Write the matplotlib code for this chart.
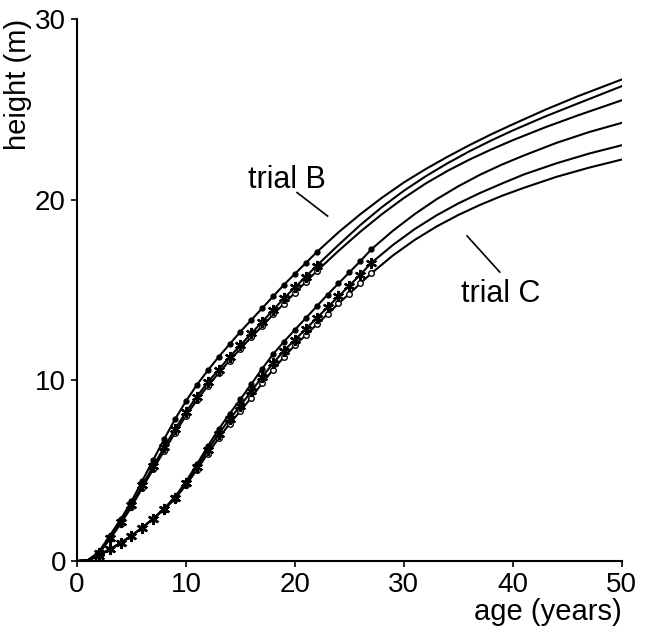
import matplotlib
matplotlib.use('Agg')
import matplotlib.pyplot as plt

plt.rcParams['font.family'] = ['Liberation Sans', 'DejaVu Sans']

# ages at which the fitted curves are read (yearly while observed, then sparser)
ages_B = list(range(0, 23)) + [24, 26, 28, 30, 32, 34, 36, 38, 40, 43, 46, 50]
ages_C = list(range(0, 28)) + [29, 31, 33, 35, 37, 39, 41, 44, 47, 50]

# trial B heights (m): dots, crosses, open circles
B_dot = [0, 0.05, 0.5, 1.4, 2.3, 3.3, 4.45, 5.6, 6.75, 7.85, 8.85, 9.75, 10.55, 11.3,
         12.0, 12.7, 13.35, 14.0, 14.65, 15.3, 15.9, 16.5, 17.1,
         18.2, 19.2, 20.12, 20.96, 21.7, 22.38, 23.02, 23.62, 24.18, 24.99, 25.74, 26.66]
B_cross = [0, 0.05, 0.45, 1.3, 2.15, 3.1, 4.2, 5.25, 6.3, 7.3, 8.25, 9.1, 9.9, 10.6,
           11.3, 11.95, 12.6, 13.25, 13.9, 14.55, 15.15, 15.75, 16.35,
           17.5, 18.6, 19.6, 20.5, 21.3, 22.02, 22.68, 23.28, 23.84, 24.62, 25.34, 26.29]
B_circ = [0, 0.05, 0.4, 1.2, 2.05, 3.0, 4.05, 5.1, 6.1, 7.1, 8.05, 8.9, 9.7, 10.4,
          11.1, 11.75, 12.4, 13.0, 13.65, 14.25, 14.85, 15.45, 16.05,
          17.17, 18.23, 19.21, 20.1, 20.9, 21.6, 22.22, 22.78, 23.3, 24.02, 24.68, 25.51]

# trial C heights (m)
C_dot = [0, 0.03, 0.3, 0.65, 1.0, 1.4, 1.85, 2.35, 2.9, 3.55, 4.4, 5.35, 6.35, 7.3,
         8.15, 8.95, 9.8, 10.65, 11.45, 12.15, 12.8, 13.45, 14.1, 14.75, 15.37,
         15.98, 16.6, 17.25,
         18.29, 19.21, 20.03, 20.75, 21.39, 21.95, 22.45, 23.15, 23.75, 24.26]
C_cross = [0, 0.03, 0.3, 0.65, 1.0, 1.4, 1.85, 2.35, 2.9, 3.5, 4.3, 5.2, 6.15, 7.05,
           7.85, 8.6, 9.4, 10.2, 10.95, 11.65, 12.25, 12.85, 13.45, 14.05, 14.65,
           15.25, 15.85, 16.5,
           17.5, 18.38, 19.14, 19.8, 20.38, 20.9, 21.4, 22.02, 22.56, 23.02]
C_circ = [0, 0.03, 0.3, 0.65, 1.0, 1.4, 1.85, 2.35, 2.85, 3.45, 4.2, 5.05, 5.95, 6.8,
          7.6, 8.3, 9.05, 9.85, 10.6, 11.3, 11.95, 12.5, 13.1, 13.67, 14.26,
          14.8, 15.37, 15.92,
          16.92, 17.78, 18.52, 19.16, 19.72, 20.22, 20.66, 21.27, 21.78, 22.23]

fig = plt.figure(figsize=(6.47, 6.33), dpi=100)
ax = fig.add_axes([0.119, 0.1137, 0.842, 0.856])

obs_B = slice(2, 23)
obs_C = slice(2, 28)

for ages, obs, dot, cross, circ in [(ages_B, obs_B, B_dot, B_cross, B_circ),
                                    (ages_C, obs_C, C_dot, C_cross, C_circ)]:
    ax.plot(ages, circ, color='black', lw=1.5, marker='o', ms=4,
            mfc='white', mew=1.0, markevery=obs, zorder=2)
    ax.plot(ages, cross, color='black', lw=1.5, marker=(6, 2, 0), ms=8,
            mew=1.6, markevery=obs, zorder=3)
    ax.plot(ages, dot, color='black', lw=1.5, marker='o', ms=3.5,
            markevery=obs, zorder=4)

ax.text(19.3, 21.1, 'trial B', fontsize=22, ha='center', va='center')
ax.plot([20.2, 23.0], [20.4, 19.1], color='black', lw=1.2)
ax.text(38.9, 14.8, 'trial C', fontsize=22, ha='center', va='center')
ax.plot([35.8, 38.8], [18.0, 16.0], color='black', lw=1.2)

ax.set_xlim(0, 50)
ax.set_ylim(0, 30)
ax.set_xticks([0, 10, 20, 30, 40, 50])
ax.set_yticks([0, 10, 20, 30])
ax.spines['top'].set_visible(False)
ax.spines['right'].set_visible(False)
ax.spines['left'].set_linewidth(1.5)
ax.spines['bottom'].set_linewidth(1.5)
ax.tick_params(direction='out', length=4, width=1.2, labelsize=20, pad=4)
ax.set_xlabel('age (years)', fontsize=21, loc='right', labelpad=0)
ax.set_ylabel('height (m)', fontsize=21, loc='top', labelpad=2)

fig.savefig('out.png', dpi=100)
